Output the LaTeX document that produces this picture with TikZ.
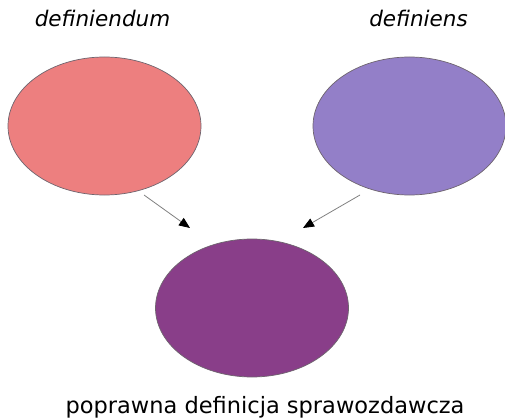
\documentclass[tikz,border=0pt]{standalone}
\usepackage{fontspec}
\setmainfont{DejaVu Sans}
\usetikzlibrary{shapes.geometric,arrows.meta}
\definecolor{roz}{RGB}{237,127,127}
\definecolor{fiolet}{RGB}{147,127,200}
\definecolor{sliwka}{RGB}{137,62,137}
\definecolor{obrys}{RGB}{110,100,110}
\begin{document}
\begin{tikzpicture}[x=1pt,y=1pt,
    pole/.style={ellipse, draw=obrys, line width=.7pt, minimum width=193pt, minimum height=138pt, inner sep=0pt},
    napis/.style={anchor=base, font=\fontsize{21.5}{24}\selectfont\itshape},
    strz/.style={draw=gray, line width=.8pt, -{Triangle[length=11pt,width=9pt,black]}}]

    \useasboundingbox (0,0) rectangle (505,418);

    \node[pole, fill=roz] (lewy) at (104.5,292) {};
    \node[pole, fill=fiolet] (prawy) at (409.5,292) {};
    \node[pole, fill=sliwka] (dol) at (252,110) {};

    \node[napis] (dum) at (102.5,391) {definiendum};
    \node[napis] (ens) at (418.5,391) {definiens};
    \node[anchor=base, font=\fontsize{22.5}{26}\selectfont] (wynik) at (265,5) {poprawna definicja sprawozdawcza};

    % strzalki
    \coordinate (l1) at (144,223);
    \coordinate (l2) at (190,190);
    \coordinate (p1) at (360,223);
    \coordinate (p2) at (303,190);
    \draw[strz] (l1) -- (l2);
    \draw[strz] (p1) -- (p2);

\end{tikzpicture}
\end{document}
